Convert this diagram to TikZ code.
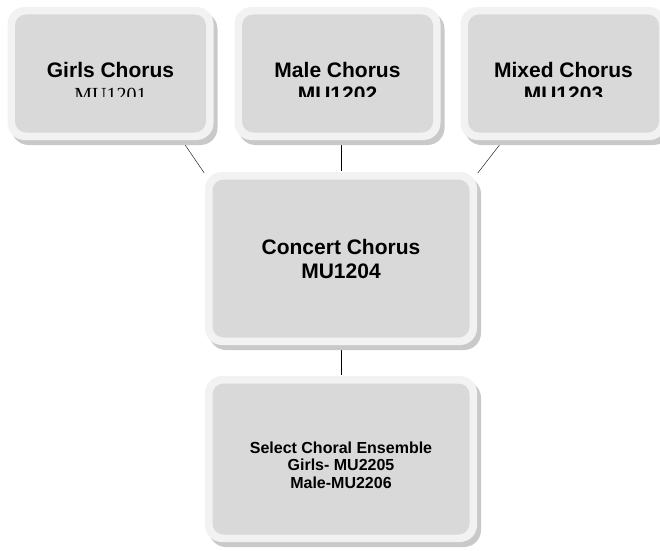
\documentclass[tikz,border=0pt]{standalone}
\usepackage{fontspec}
\setmainfont{Liberation Sans}
\newfontfamily\codefont{Liberation Serif}
\usetikzlibrary{positioning,shadows,backgrounds}

\begin{document}
\begin{tikzpicture}[x=1pt,y=1pt,-,line width=1.4pt,node distance=226pt,chorus/.style={rectangle,rounded corners=17pt,fill=black!5,inner sep=0pt,minimum width=206pt,minimum height=133pt,drop shadow={shadow xshift=4pt,shadow yshift=-5pt,fill=black!21,opacity=1},path picture={\fill[black!15,rounded corners=11pt] ([shift={(7.5pt,7.5pt)}]path picture bounding box.south west) rectangle ([shift={(-7.5pt,-7.5pt)}]path picture bounding box.north east);}},bigchorus/.style={chorus,minimum width=272pt},tag/.style={align=center,inner sep=0pt,font=\bfseries\fontsize{21}{24}\selectfont},smalltag/.style={tag,font=\bfseries\fontsize{16}{17.7}\selectfont}]
	\useasboundingbox (0,0) rectangle (660,550);
	\node[bigchorus,minimum height=173pt]	(concert)	at (341,291.5)								{};
	\node[bigchorus,minimum height=166pt]	(select)	[below of=concert,node distance=200.5pt]	{};
	\node[chorus]							(male)		[above of=concert,node distance=185pt,xshift=-3.5pt]	{};
	\node[chorus]							(girls)		[left of=male,node distance=227pt]			{};
	\node[chorus]							(mixed)		[right of=male]								{};
	
	\node[tag]		(concerttag)	at (concert.center)				{Concert Chorus\\MU1204};
	\node[smalltag]	(selecttag)		at ([yshift=-6pt]select.center)	{Select Choral Ensemble\\Girls- MU2205\\Male-MU2206};
	\begin{scope}
		\clip (0,453.3) rectangle (660,550);
		\node[tag]	(girlstag)	at ([yshift=-8.8pt]girls.center)	{Girls Chorus\\{\codefont\mdseries\fontsize{20}{24}\selectfont MU1201}};
		\node[tag]	(maletag)	at ([yshift=-8.8pt]male.center)		{Male Chorus\\MU1202};
		\node[tag]	(mixedtag)	at ([yshift=-8.8pt]mixed.center)	{Mixed Chorus\\MU1203};
	\end{scope}
	
	\begin{scope}[on background layer]
		\draw	([xshift=-32pt]girls.south east)	--	(concert.148);
		\draw	(concert.north |- male.south)		--	(concert.north);
		\draw	([xshift=43pt]mixed.south west)		--	(concert.32);
		\draw	(concert.south)						--	(select.north);
	\end{scope}
\end{tikzpicture}
\end{document}
